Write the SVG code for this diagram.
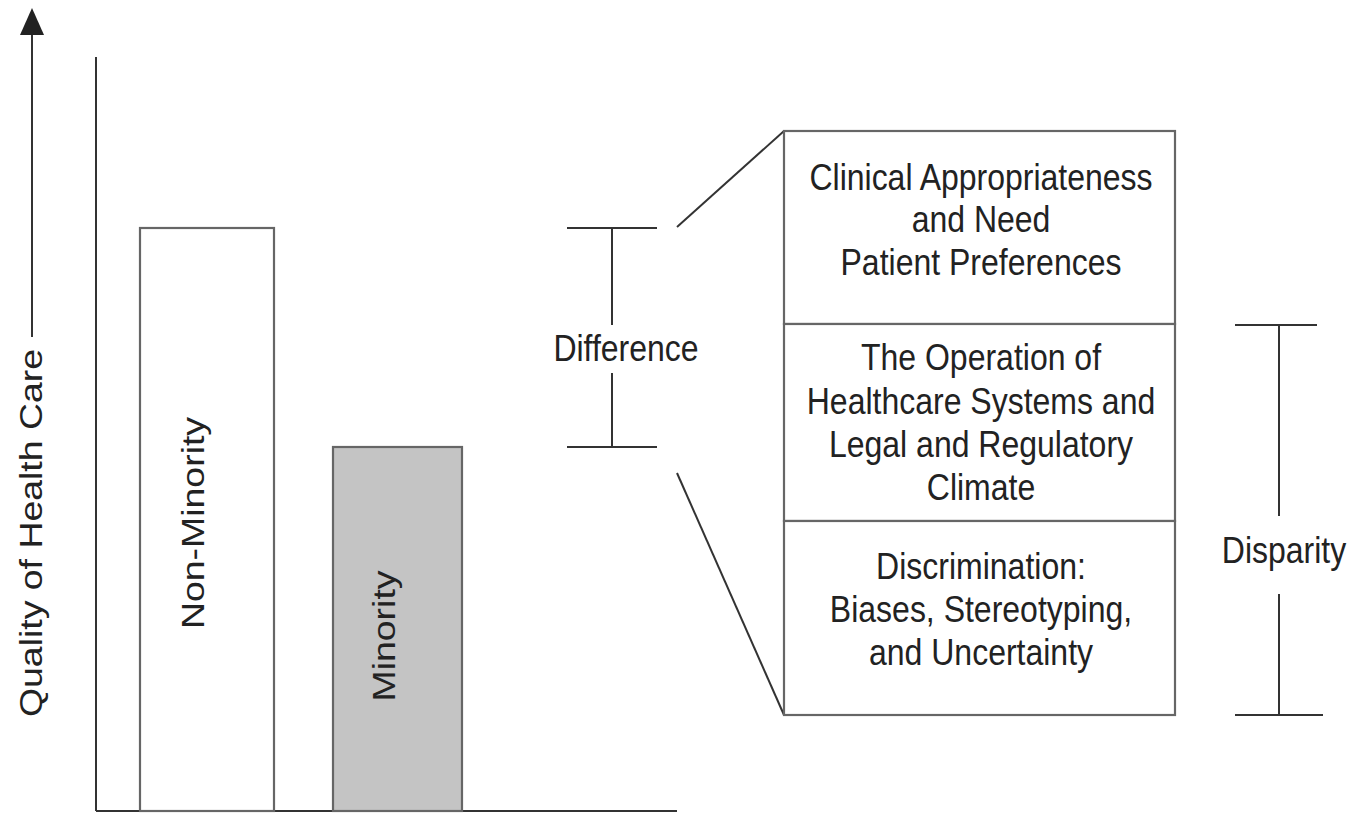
<svg xmlns="http://www.w3.org/2000/svg" width="1359" height="813" viewBox="0 0 1359 813">
<style>
text{font-family:"Liberation Sans",Arial,sans-serif;font-size:32px;fill:#222;text-anchor:middle}
.ln{stroke:#333;stroke-width:2;fill:none}
.bx{stroke:#666;stroke-width:2.2;fill:#fff}
</style>
<rect width="1359" height="813" fill="#fff"/>
<g id="axes">
<line class="ln" x1="32" y1="33" x2="32" y2="337"/>
<polygon points="32,8 20,35 44,35" fill="#222"/>
<line class="ln" x1="96" y1="57" x2="96" y2="811"/>
<line class="ln" x1="96" y1="811" x2="677" y2="811"/>
<text transform="translate(42,533) scale(1,1.17) rotate(-90)">Quality of Health Care</text>
</g>
<g id="non-minority">
<rect class="bx" x="140" y="228" width="134" height="583"/>
<text transform="translate(204,523) scale(1,1.17) rotate(-90)">Non-Minority</text>
</g>
<g id="minority">
<rect class="bx" x="333" y="447" width="129" height="364" style="fill:#c4c4c4"/>
<text transform="translate(395,636) scale(1,1.17) rotate(-90)">Minority</text>
</g>
<g id="connectors">
<line class="ln" x1="567" y1="228" x2="657" y2="228"/>
<line class="ln" x1="612" y1="228" x2="612" y2="325"/>
<line class="ln" x1="612" y1="373" x2="612" y2="447"/>
<line class="ln" x1="567" y1="447" x2="657" y2="447"/>
<line class="ln" x1="677" y1="227" x2="784" y2="131"/>
<line class="ln" x1="677" y1="473" x2="784" y2="715"/>
<line class="ln" x1="1235" y1="325" x2="1317" y2="325"/>
<line class="ln" x1="1279" y1="325" x2="1279" y2="516"/>
<line class="ln" x1="1279" y1="594" x2="1279" y2="715"/>
<line class="ln" x1="1235" y1="715" x2="1323" y2="715"/>
</g>
<g id="difference">
<text transform="translate(626,361) scale(1,1.17)">Difference</text>
</g>
<g id="disparity">
<text transform="translate(1284,563) scale(1,1.17)">Disparity</text>
</g>
<g id="box-clinical">
<rect class="bx" x="784" y="131" width="391" height="193"/>
<text transform="translate(981,190) scale(1,1.17)">Clinical Appropriateness</text>
<text transform="translate(981,232) scale(1,1.17)">and Need</text>
<text transform="translate(981,275) scale(1,1.17)">Patient Preferences</text>
</g>
<g id="box-operation">
<rect class="bx" x="784" y="324" width="391" height="197"/>
<text transform="translate(981,370) scale(1,1.17)">The Operation of</text>
<text transform="translate(981,414) scale(1,1.17)">Healthcare Systems and</text>
<text transform="translate(981,457) scale(1,1.17)">Legal and Regulatory</text>
<text transform="translate(981,500) scale(1,1.17)">Climate</text>
</g>
<g id="box-discrimination">
<rect class="bx" x="784" y="521" width="391" height="194"/>
<text transform="translate(981,579) scale(1,1.17)">Discrimination:</text>
<text transform="translate(981,622) scale(1,1.17)">Biases, Stereotyping,</text>
<text transform="translate(981,665) scale(1,1.17)">and Uncertainty</text>
</g>
</svg>
